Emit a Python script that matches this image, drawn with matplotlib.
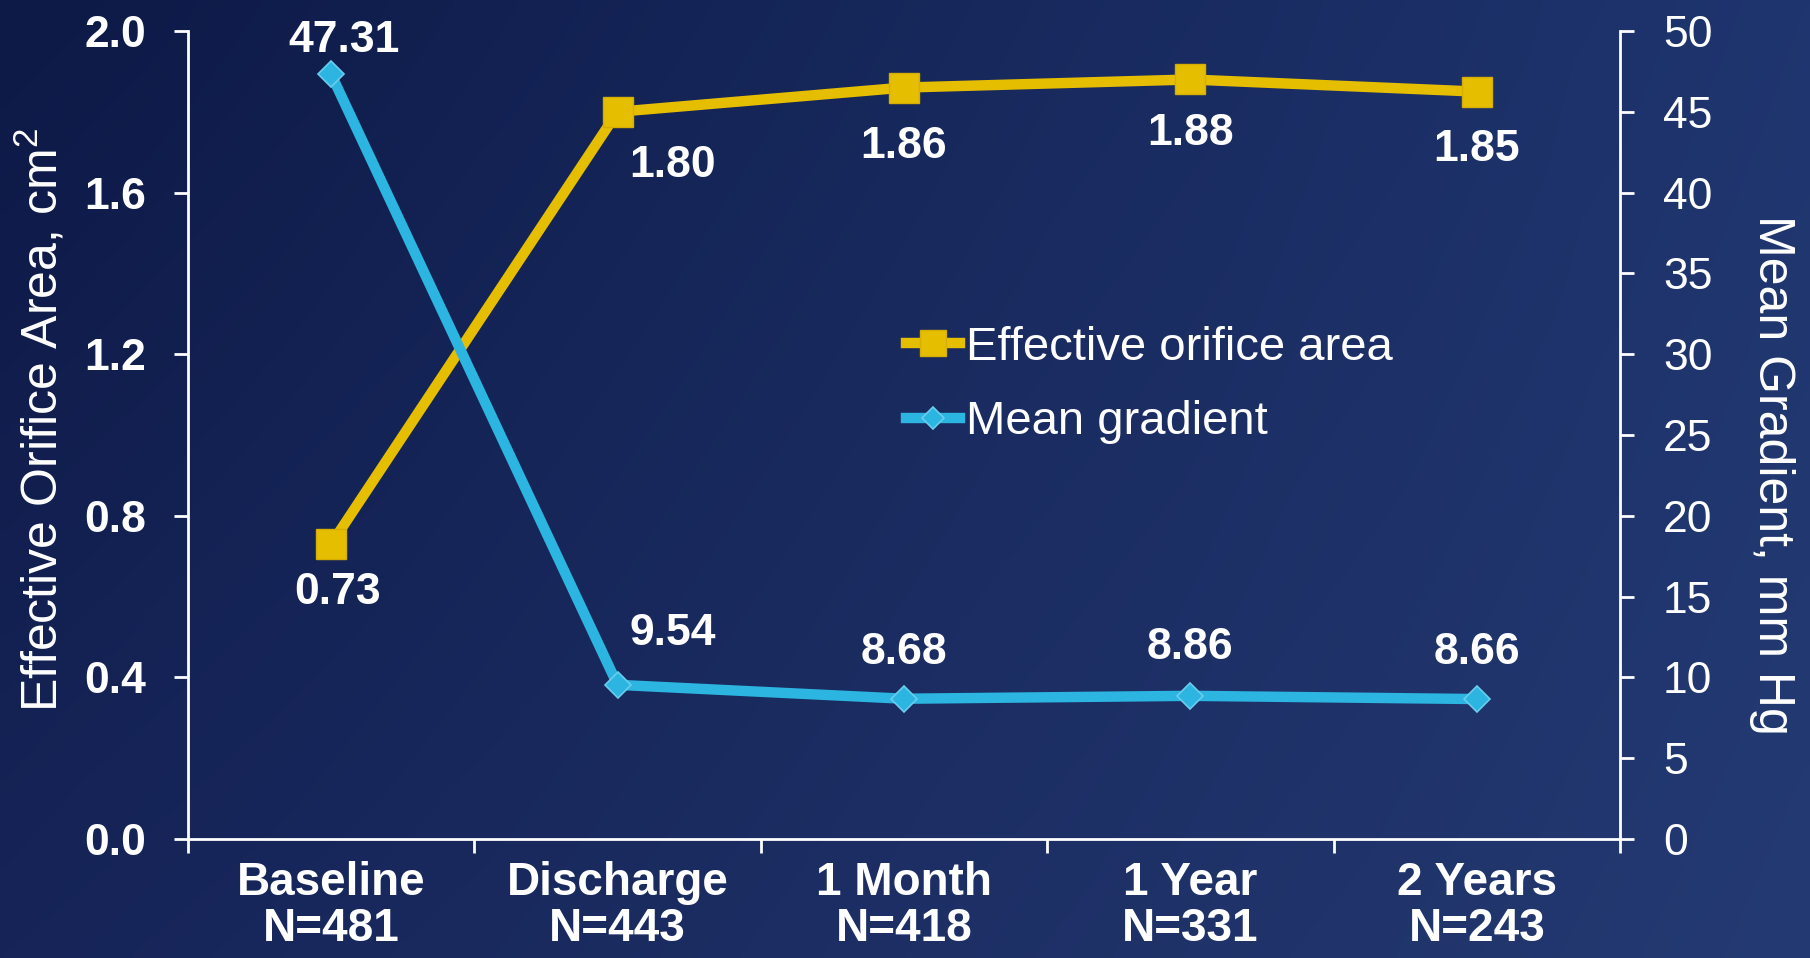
import numpy as np
import matplotlib
matplotlib.use("Agg")
import matplotlib.pyplot as plt
from matplotlib.ticker import FixedLocator, FormatStrFormatter

plt.rcParams['font.family'] = ['Liberation Sans', 'DejaVu Sans']
plt.rcParams['mathtext.fontset'] = 'custom'
plt.rcParams['mathtext.rm'] = 'Liberation Sans'
plt.rcParams['mathtext.default'] = 'regular'

# ---- data ----
categories = ["Baseline\nN=481", "Discharge\nN=443", "1 Month\nN=418", "1 Year\nN=331", "2 Years\nN=243"]
eoa = [0.73, 1.80, 1.86, 1.88, 1.85]
mean_gradient = [47.31, 9.54, 8.68, 8.86, 8.66]
eoa_ticks = [0.0, 0.4, 0.8, 1.2, 1.6, 2.0]
mg_ticks = [0, 5, 10, 15, 20, 25, 30, 35, 40, 45, 50]

# label offsets in pixels (layout)
eoa_offsets = [(6, -48), (55, -54), (0, -59), (0, -54), (0, -58)]
mg_offsets = [(13, 34), (55, 51), (0, 46), (0, 48), (0, 47)]

YELLOW = "#E6BE00"
CYAN = "#2BB5E0"
W, H, DPI = 1810, 958, 100

fig = plt.figure(figsize=(W / DPI, H / DPI), dpi=DPI)

# background gradient
bg = fig.add_axes([0, 0, 1, 1], zorder=-10)
tl = np.array([13, 25, 70]) / 255
tr = np.array([31, 53, 111]) / 255
bl = np.array([22, 36, 88]) / 255
br = np.array([36, 58, 114]) / 255
u = np.linspace(0, 1, 200)[None, :, None]
v = np.linspace(0, 1, 120)[:, None, None]
img = (1 - v) * ((1 - u) * tl + u * tr) + v * ((1 - u) * bl + u * br)
bg.imshow(img, aspect='auto', extent=[0, 1, 0, 1], interpolation='bicubic')
bg.axis('off')

left, right = 188 / W, 1620 / W
bottom, top = 1 - 839 / H, 1 - 31 / H
ax = fig.add_axes([left, bottom, right - left, top - bottom])
ax.patch.set_alpha(0)
ax2 = ax.twinx()

x = np.arange(len(categories))
l1, = ax.plot(x, eoa, color=YELLOW, lw=7.5, marker='s', markersize=22,
              markerfacecolor=YELLOW, markeredgecolor="#D4AE00", markeredgewidth=1,
              label="Effective orifice area", solid_joinstyle='miter', zorder=3)
l2, = ax2.plot(x, mean_gradient, color=CYAN, lw=7.5, marker='D', markersize=13.5,
               markerfacecolor=CYAN, markeredgecolor="#6ACDEE", markeredgewidth=1.2,
               label="Mean gradient", zorder=3)

ax.set_xlim(-0.5, len(categories) - 0.5)
ax.set_ylim(0, 2.0)
ax2.set_ylim(0, 50)

ax.set_yticks(eoa_ticks)
ax.yaxis.set_major_formatter(FormatStrFormatter('%.1f'))
ax2.set_yticks(mg_ticks)

ax.set_xticks(x)
ax.set_xticklabels(categories, fontsize=33, fontweight='bold', color='white', linespacing=1.06)
ax.xaxis.set_minor_locator(FixedLocator(np.arange(-0.5, len(categories), 1.0)))
ax.tick_params(axis='x', which='major', length=0, pad=16)
ax.tick_params(axis='x', which='minor', length=10, width=2, color='white', direction='out')

ax.tick_params(axis='y', length=10, width=2, color='white', direction='out', pad=20,
               labelsize=32, labelcolor='white')
for t in ax.get_yticklabels():
    t.set_fontweight('bold')
ax2.tick_params(axis='y', length=10, width=2, color='white', direction='out', pad=21,
                labelsize=32, labelcolor='white')

for a in (ax, ax2):
    a.spines['top'].set_visible(False)
    for s in ('left', 'right', 'bottom'):
        a.spines[s].set_color('white')
        a.spines[s].set_linewidth(2)
ax.spines['right'].set_visible(False)
ax2.spines['left'].set_visible(False)
ax2.spines['bottom'].set_visible(False)

# data labels
for i, (val, (dx, dy)) in enumerate(zip(eoa, eoa_offsets)):
    ax.annotate(f"{val:.2f}", (x[i], val), xytext=(dx, dy), textcoords='offset pixels',
                ha='center', va='center', fontsize=32, fontweight='bold', color='white', zorder=5)
for i, (val, (dx, dy)) in enumerate(zip(mean_gradient, mg_offsets)):
    ax2.annotate(f"{val:.2f}", (x[i], val), xytext=(dx, dy), textcoords='offset pixels',
                 ha='center', va='center', fontsize=32, fontweight='bold', color='white', zorder=5)

# axis labels
fig.text(40 / W, 1 - 420 / H, r"Effective Orifice Area, cm$^2$", rotation=90, ha='center', va='center',
         fontsize=36, color='white')
fig.text(1772 / W, 1 - 475 / H, "Mean Gradient, mm Hg", rotation=-90, ha='center', va='center',
         fontsize=36, color='white')

leg = ax2.legend(handles=[l1, l2], loc='center left', bbox_to_anchor=(906 / W, 1 - 385 / H),
                 bbox_transform=fig.transFigure, frameon=False, fontsize=34,
                 handlelength=1.15, handletextpad=0.12, labelspacing=0.64, borderpad=0,
                 borderaxespad=0, markerscale=0.85)
for t in leg.get_texts():
    t.set_color('white')

fig.savefig("out.png", dpi=DPI)
